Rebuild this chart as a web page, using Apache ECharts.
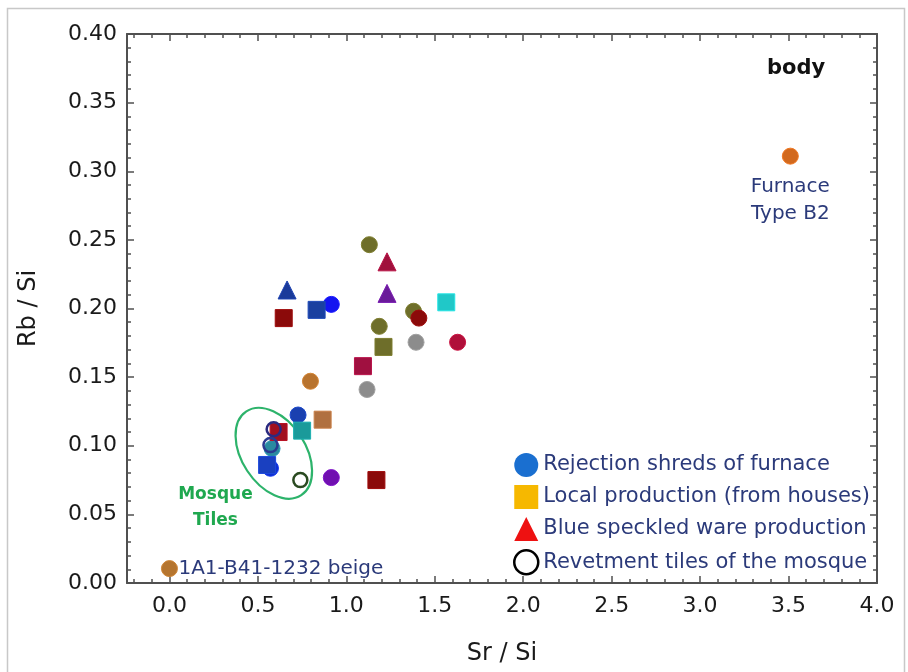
<!DOCTYPE html>
<html>
<head>
<meta charset="utf-8">
<script src="https://cdn.jsdelivr.net/npm/echarts@6/dist/echarts.min.js"></script>
<style>
  html, body { margin: 0; padding: 0; background: #fff; }
  #chart { width: 908px; height: 672px; }
</style>
</head>
<body>
<div id="chart"></div>
<script>
  'use strict'

  // tick labels
  var xTicks = [0, 0.5, 1, 1.5, 2, 2.5, 3, 3.5, 4]
  var xMinorTicks = []
  for (var t = -2; t <= 40; t++) xMinorTicks.push(t / 10)

  // Rejection shreds of furnace (filled circles)
  var shredX = [3.51, 0.00, 1.13, 0.915, 1.38, 1.41, 1.186, 1.394, 1.629, 0.797, 1.117, 0.727, 0.58, 0.571, 0.915]
  var shredY = [0.311, 0.0105, 0.2465, 0.203, 0.198, 0.193, 0.187, 0.1754, 0.1754, 0.147, 0.141, 0.1224, 0.098, 0.0836, 0.0768]
  var shredColors = ['#D2691E', '#B5752F', '#6E6E2A', '#1414F0', '#6E6E2A', '#8B0A0A', '#6E6E2A', '#8C8C8C',
    '#B0103A', '#B8732E', '#8C8C8C', '#1A40B0', '#2A8AA0', '#1030D0', '#7010B0']

  // Local production (squares)
  var localX = [1.565, 0.832, 0.646, 1.21, 1.094, 0.866, 0.75, 0.617, 0.552, 1.17]
  var localY = [0.2045, 0.199, 0.193, 0.172, 0.158, 0.119, 0.111, 0.110, 0.086, 0.075]
  var localColors = ['#20C8C8', '#1A40A0', '#8B0A0A', '#6E6E2A', '#A01040', '#B07040', '#1A9A9A', '#A01020', '#1A40C0', '#8B0A0A']

  // Blue speckled ware production (triangles)
  var speckX = [0.665, 1.23, 1.23]
  var speckY = [0.2135, 0.234, 0.211]
  var speckColors = ['#1A3A9A', '#A0103C', '#6A1A9A']

  // Revetment tiles of the mosque (open circles)
  var tileX = [0.589, 0.571, 0.74]
  var tileY = [0.112, 0.1005, 0.075]
  var tileColors = ['#2A2A80', '#2A3A90', '#2A4A20']

  // mosque group ellipse: centre and radii in data units
  var ellipseCentre = [0.59, 0.0945]
  var ellipseRadius = [0.18, 0.0365]

  // notes written beside points
  var noteX = [3.51, 0.00, 0.26]
  var noteY = [0.311, 0.0105, 0.0546]
  var noteText = ['Furnace\nType B2', '1A1-B41-1232 beige', 'Mosque\nTiles']

  var names = ['Rejection shreds of furnace', 'Local production (from houses)',
    'Blue speckled ware production', 'Revetment tiles of the mosque']

  var navy = '#2B3A7A'
  var axisColor = '#505050'
  var font = 'DejaVu Sans'

  function points (xs, ys, colors, hollow) {
    return xs.map(function (x, i) {
      return {
        value: [x, ys[i]],
        itemStyle: hollow
          ? { color: 'rgba(255,255,255,0)', borderColor: colors[i], borderWidth: 2.5, opacity: 1 }
          : { color: colors[i], borderColor: echarts.color.lift(colors[i], -0.15), borderWidth: 1, opacity: 1 }
      }
    })
  }

  var noteStyles = [
    { position: 'bottom', distance: 17, fontSize: 20, lineHeight: 27, color: navy, align: 'center' },
    { position: 'right', distance: 9, fontSize: 20, color: navy },
    { position: 'inside', fontSize: 17, lineHeight: 26, fontWeight: 'bold', color: '#1FA84F', align: 'center' }
  ]

  function xAxisOf (position, major) {
    return {
      type: 'value', min: -0.24, max: 4, position: position,
      axisLine: { show: major, onZero: false, lineStyle: { color: axisColor, width: 2 } },
      axisTick: { show: true, inside: true, length: major ? 7 : 4, customValues: major ? xTicks : xMinorTicks,
        lineStyle: { color: axisColor, width: 1.5 } },
      axisLabel: { show: major && position === 'bottom', customValues: xTicks, margin: 12,
        formatter: function (v) { return v.toFixed(1) },
        fontFamily: font, fontSize: 22, color: '#1a1a1a' },
      splitLine: { show: false },
      name: major && position === 'bottom' ? 'Sr / Si' : '',
      nameLocation: 'middle', nameGap: 59,
      nameTextStyle: { fontFamily: font, fontSize: 24, color: '#1a1a1a' }
    }
  }

  function yAxisOf (position) {
    return {
      type: 'value', min: 0, max: 0.4, interval: 0.05, position: position,
      axisLine: { show: true, onZero: false, lineStyle: { color: axisColor, width: 2 } },
      axisTick: { show: true, inside: true, length: 7, lineStyle: { color: axisColor, width: 1.5 } },
      minorTick: { show: true, splitNumber: 5, length: 4, lineStyle: { color: axisColor, width: 1.5 } },
      axisLabel: { show: position === 'left', margin: 10,
        formatter: function (v) { return v.toFixed(2) },
        fontFamily: font, fontSize: 22, color: '#1a1a1a' },
      splitLine: { show: false },
      name: position === 'left' ? 'Rb / Si' : '',
      nameLocation: 'middle', nameGap: 86,
      nameTextStyle: { fontFamily: font, fontSize: 24, color: '#1a1a1a' }
    }
  }

  var chart = echarts.init(document.getElementById('chart'))

  chart.setOption({
    animation: false,
    backgroundColor: '#fff',
    grid: { left: 127, right: 31, top: 34, bottom: 89 },
    xAxis: [xAxisOf('bottom', true), xAxisOf('bottom', false), xAxisOf('top', true), xAxisOf('top', false)],
    yAxis: [yAxisOf('left'), yAxisOf('right')],
    legend: {
      orient: 'vertical', left: 508, top: 448,
      itemWidth: 24, itemHeight: 24, itemGap: 8,
      selectedMode: false,
      textStyle: { fontFamily: font, fontSize: 21, color: navy },
      data: [
        { name: names[0], icon: 'circle', itemStyle: { color: '#1A6FD0', borderWidth: 0, opacity: 1 } },
        { name: names[1], icon: 'rect', itemStyle: { color: '#F6B800', borderWidth: 0, opacity: 1 } },
        { name: names[2], icon: 'triangle', itemStyle: { color: '#EE1111', borderWidth: 0, opacity: 1 } },
        { name: names[3], icon: 'circle', itemStyle: { color: '#fff', borderColor: '#000', borderWidth: 2.5, opacity: 1 } }
      ]
    },
    graphic: [
      { type: 'rect', left: 5, top: 6, shape: { width: 897, height: 700 },
        style: { fill: 'none', stroke: '#C8C8C8', lineWidth: 1.5 }, z: -1 },
      { type: 'text', left: 767, top: 58,
        style: { text: 'body', fontFamily: font, fontSize: 21, fontWeight: 'bold', fill: '#111' } }
    ],
    series: [
      { name: names[0], type: 'scatter', symbol: 'circle', symbolSize: 16, data: points(shredX, shredY, shredColors, false) },
      { name: names[1], type: 'scatter', symbol: 'rect', symbolSize: 17, data: points(localX, localY, localColors, false) },
      { name: names[2], type: 'scatter', symbol: 'triangle', symbolSize: 18, data: points(speckX, speckY, speckColors, false) },
      { name: names[3], type: 'scatter', symbol: 'circle', symbolSize: 14, data: points(tileX, tileY, tileColors, true), z: 3 },
      {
        type: 'custom',
        data: [ellipseCentre],
        renderItem: function (params, api) {
          var c = api.coord([api.value(0), api.value(1)])
          var rx = api.size([ellipseRadius[0], 0])[0]
          var ry = api.size([0, ellipseRadius[1]])[1]
          return {
            type: 'ellipse', x: c[0], y: c[1], rotation: 0.58,
            shape: { cx: 0, cy: 0, rx: rx, ry: ry },
            style: { fill: 'transparent', stroke: '#2DB36B', lineWidth: 2.2 }
          }
        }
      },
      {
        type: 'scatter', symbolSize: 0, silent: true,
        itemStyle: { opacity: 1 },
        data: noteX.map(function (x, i) {
          var s = noteStyles[i]
          return {
            value: [x, noteY[i]],
            label: {
              show: true, formatter: noteText[i], position: s.position, distance: s.distance,
              fontFamily: font, fontSize: s.fontSize, lineHeight: s.lineHeight,
              fontWeight: s.fontWeight || 'normal', color: s.color, align: s.align
            }
          }
        })
      }
    ]
  })
</script>
</body>
</html>
